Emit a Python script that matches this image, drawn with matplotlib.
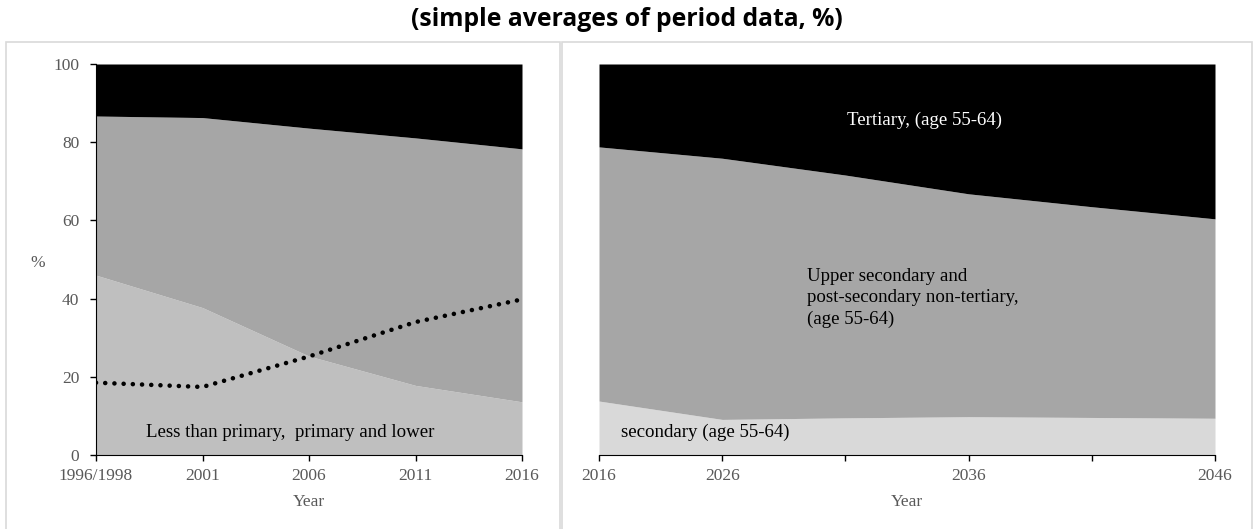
import numpy as np
import matplotlib.pyplot as plt
from matplotlib.patches import Rectangle

# left panel: 1996/1998 - 2016 (stacked shares, %)
years_l = ["1996/1998", "2001", "2006", "2011", "2016"]
low_l = [46.0, 37.7, 25.3, 17.8, 13.6]          # less than primary, primary and lower
top_l = [86.7, 86.3, 83.6, 81.1, 78.3]          # cumulative up to upper secondary
dotted_l = [18.5, 17.4, 25.2, 34.0, 39.8]

# right panel: projections 2016 - 2046
years_r = ["2016", "2026", "2031", "2036", "2041", "2046"]
labels_r = ["2016", "2026", "", "2036", "", "2046"]
low_r = [13.8, 9.1, 9.5, 9.8, 9.6, 9.4]          # secondary (age 55-64)
top_r = [78.8, 75.9, 71.6, 66.8, 63.5, 60.4]     # cumulative up to upper secondary

BLACK = "#000000"
MID = "#a6a6a6"
GREY_L = "#bfbfbf"
GREY_R = "#d9d9d9"
TXT = "#595959"
serif = "Liberation Serif"
FS = 12.5   # tick / axis label size
AS = 13.6   # annotation size

fig = plt.figure(figsize=(12.53, 5.29), dpi=100)

# panel frames
for x0, x1 in [(6, 560), (562, 1252)]:
    fig.patches.append(Rectangle((x0 / 1253, -0.01), (x1 - x0) / 1253, (529 - 42) / 529 + 0.01,
                                 transform=fig.transFigure, fill=False,
                                 edgecolor="#d9d9d9", linewidth=1.2))

fig.text(0.5, 0.963, "(simple averages of period data, %)", ha="center", va="center",
         fontsize=17.8, fontweight="bold", family="Open Sans")

ax1 = fig.add_axes([96 / 1253, 74 / 529, (522 - 96) / 1253, (455 - 64) / 529])
ax2 = fig.add_axes([599 / 1253, 74 / 529, (1215 - 599) / 1253, (455 - 64) / 529])

x = np.arange(len(years_l))
ax1.fill_between(x, 0, low_l, color=GREY_L, linewidth=0)
ax1.fill_between(x, low_l, top_l, color=MID, linewidth=0)
ax1.fill_between(x, top_l, 100, color=BLACK, linewidth=0)
ax1.plot(x, dotted_l, color="black", linewidth=3.3, linestyle=(0, (0.01, 2.0)),
         dash_capstyle="round")
ax1.set_xlim(0, len(years_l) - 1)
ax1.set_ylim(0, 100)
ax1.set_xticks(x)
ax1.set_xticklabels(years_l)
ax1.set_yticks([0, 20, 40, 60, 80, 100])
ax1.set_xlabel("Year", family=serif, fontsize=FS, color=TXT)
ax1.xaxis.set_label_coords(0.5, -0.10)
ax1.set_ylabel("%", family=serif, fontsize=FS, color=TXT, rotation=0, va="center", ha="center")
ax1.yaxis.set_label_coords(-0.136, 0.49)
ax1.text(1.82, 5.7, "Less than primary,  primary and lower", ha="center", va="center",
         family=serif, fontsize=AS, color="black")

xr = np.arange(len(years_r))
ax2.fill_between(xr, 0, low_r, color=GREY_R, linewidth=0)
ax2.fill_between(xr, low_r, top_r, color=MID, linewidth=0)
ax2.fill_between(xr, top_r, 100, color=BLACK, linewidth=0)
ax2.set_xlim(0, len(years_r) - 1)
ax2.set_ylim(0, 100)
ax2.set_xticks(xr)
ax2.set_xticklabels(labels_r)
ax2.set_yticks([])
ax2.set_xlabel("Year", family=serif, fontsize=FS, color=TXT)
ax2.xaxis.set_label_coords(0.5, -0.10)
ax2.text(2.64, 85.5, "Tertiary, (age 55-64)", ha="center", va="center",
         family=serif, fontsize=AS, color="white")
ax2.text(1.69, 40.2, "Upper secondary and\npost-secondary non-tertiary,\n(age 55-64)",
         ha="left", va="center", family=serif, fontsize=AS, color="black", linespacing=1.35)
ax2.text(0.18, 5.7, "secondary (age 55-64)", ha="left", va="center",
         family=serif, fontsize=AS, color="black")

for ax in (ax1, ax2):
    for s in ("top", "right"):
        ax.spines[s].set_visible(False)
    ax.spines["bottom"].set_color("black")
    ax.spines["left"].set_color("black")
    ax.tick_params(direction="out", length=4, width=1, colors="black", labelcolor=TXT,
                   labelsize=FS)
    ax.tick_params(axis="y", pad=8)
    ax.tick_params(axis="x", pad=5)
    for lab in ax.get_xticklabels() + ax.get_yticklabels():
        lab.set_family(serif)
ax2.spines["left"].set_visible(False)

fig.savefig("out.png", dpi=100)
